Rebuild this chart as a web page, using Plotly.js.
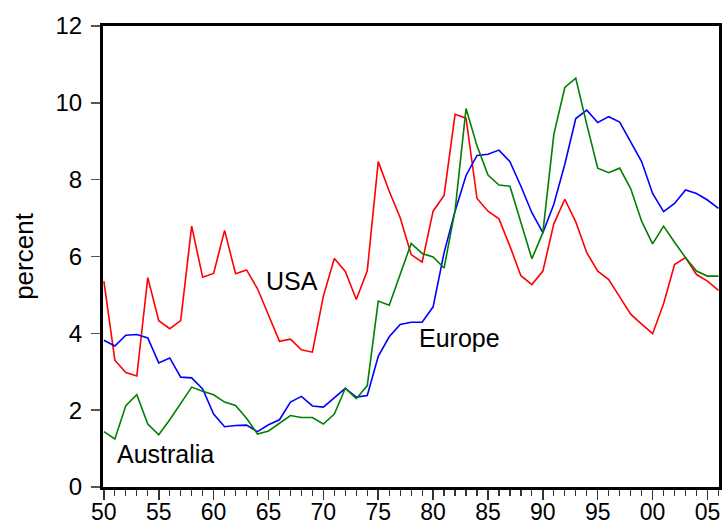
<!DOCTYPE html>
<html>
<head>
<meta charset="utf-8">
<script src="https://cdn.plot.ly/plotly-3.0.1.min.js"></script>
<style>html,body{margin:0;padding:0;background:#fff;}#chart{width:722px;height:524px;}</style>
</head>
<body>
<div id="chart"></div>
<script>
var years = [];
for (var y = 1950; y <= 2006; y++) years.push(y);

var usa = [5.36, 3.30, 2.98, 2.89, 5.45, 4.33, 4.12, 4.33, 6.79, 5.46,
           5.56, 6.68, 5.55, 5.65, 5.16, 4.49, 3.79, 3.85, 3.57, 3.51,
           4.97, 5.95, 5.61, 4.88, 5.63, 8.47, 7.70, 7.01, 6.05, 5.85,
           7.18, 7.59, 9.70, 9.60, 7.51, 7.18, 6.98, 6.27, 5.50, 5.27,
           5.62, 6.85, 7.49, 6.90, 6.10, 5.62, 5.40, 4.95, 4.50, 4.24,
           3.99, 4.77, 5.79, 5.97, 5.53, 5.36, 5.12];

var europe = [3.82, 3.67, 3.95, 3.97, 3.88, 3.23, 3.36, 2.86, 2.84, 2.55,
              1.90, 1.57, 1.60, 1.61, 1.44, 1.62, 1.75, 2.21, 2.36, 2.11,
              2.08, 2.33, 2.57, 2.34, 2.38, 3.40, 3.91, 4.23, 4.29, 4.29,
              4.69, 6.10, 7.18, 8.11, 8.63, 8.66, 8.77, 8.47, 7.83, 7.14,
              6.62, 7.36, 8.40, 9.59, 9.81, 9.49, 9.64, 9.50, 9.00, 8.47,
              7.64, 7.17, 7.38, 7.73, 7.64, 7.47, 7.25];

var australia = [1.44, 1.25, 2.12, 2.40, 1.64, 1.36, 1.75, 2.18, 2.60, 2.49,
                 2.40, 2.21, 2.12, 1.79, 1.38, 1.46, 1.66, 1.86, 1.81, 1.81,
                 1.64, 1.90, 2.57, 2.30, 2.64, 4.84, 4.73, 5.53, 6.34, 6.08,
                 5.99, 5.70, 7.20, 9.85, 8.88, 8.12, 7.86, 7.83, 6.88, 5.94,
                 6.62, 9.18, 10.40, 10.64, 9.44, 8.30, 8.18, 8.30, 7.77, 6.92,
                 6.33, 6.79, 6.37, 5.97, 5.62, 5.49, 5.49];

var xTickVals = [1950, 1955, 1960, 1965, 1970, 1975, 1980, 1985, 1990, 1995, 2000, 2005];
var xTickText = ["50", "55", "60", "65", "70", "75", "80", "85", "90", "95", "00", "05"];
var yTickVals = [0, 2, 4, 6, 8, 10, 12];

var labels = [
  {text: "USA", x: 1967.14, y: 5.37},
  {text: "Europe", x: 1982.36, y: 3.89},
  {text: "Australia", x: 1955.65, y: 0.86}
];

var FONT = "Arial, 'Liberation Sans', sans-serif";

var traces = [
  {x: years, y: usa, type: "scatter", mode: "lines", name: "USA",
   line: {color: "#ff0000", width: 1.6}},
  {x: years, y: europe, type: "scatter", mode: "lines", name: "Europe",
   line: {color: "#0000ff", width: 1.6}},
  {x: years, y: australia, type: "scatter", mode: "lines", name: "Australia",
   line: {color: "#008000", width: 1.6}}
];

var layout = {
  width: 722, height: 524,
  margin: {l: 103, r: 3, t: 26, b: 37},
  paper_bgcolor: "#fff", plot_bgcolor: "#fff",
  showlegend: false,
  font: {family: FONT, size: 24, color: "#000"},
  xaxis: {
    range: [1949.92, 2006.05],
    tickmode: "array", tickvals: xTickVals, ticktext: xTickText,
    ticks: "outside", ticklen: 10, tickwidth: 1.5, tickcolor: "#333",
    minor: {dtick: 1, tick0: 1950, ticks: "outside", ticklen: 6, tickwidth: 1.2, tickcolor: "#333", showgrid: false},
    showgrid: false, zeroline: false,
    showline: true, linewidth: 3, linecolor: "#000", mirror: true,
    tickfont: {family: FONT, size: 23, color: "#000"},
    ticklabelstandoff: -8
  },
  yaxis: {
    range: [0, 12],
    tickmode: "array", tickvals: yTickVals,
    ticks: "outside", ticklen: 9, tickwidth: 1.5, tickcolor: "#555",
    showgrid: false, zeroline: false,
    showline: true, linewidth: 3, linecolor: "#000", mirror: true,
    tickfont: {family: FONT, size: 24, color: "#000"},
    ticklabelstandoff: 4,
    title: {text: "percent", font: {family: FONT, size: 26, color: "#000"}, standoff: 15}
  },
  annotations: labels.map(function (l) {
    return {text: l.text, x: l.x, y: l.y, xref: "x", yref: "y",
            showarrow: false, xanchor: "center", yanchor: "middle",
            font: {family: FONT, size: 25, color: "#000"}};
  })
};

Plotly.newPlot("chart", traces, layout, {displayModeBar: false, staticPlot: true});
</script>
</body>
</html>
